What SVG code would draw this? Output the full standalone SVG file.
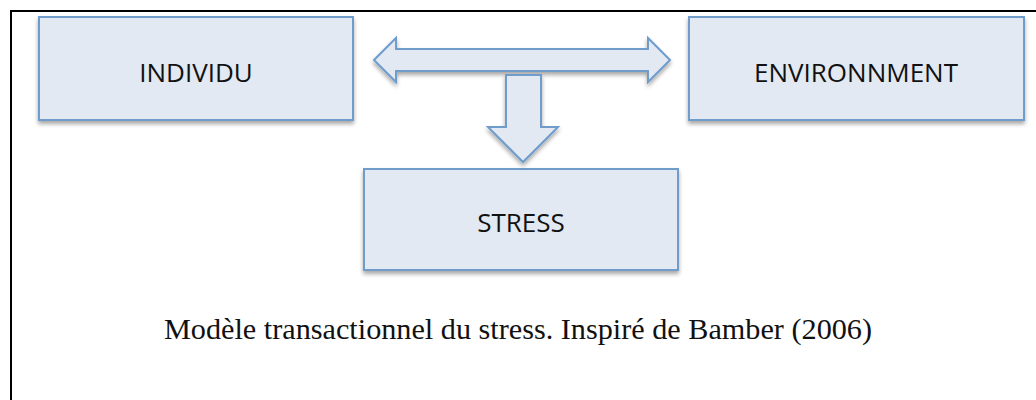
<svg xmlns="http://www.w3.org/2000/svg" width="1036" height="400" viewBox="0 0 1036 400">
<defs>
<filter id="sh" x="-10%" y="-10%" width="120%" height="130%">
<feGaussianBlur in="SourceAlpha" stdDeviation="2"/>
<feOffset dx="0" dy="3" result="b"/>
<feComponentTransfer><feFuncA type="linear" slope="0.35"/></feComponentTransfer>
<feMerge><feMergeNode/><feMergeNode in="SourceGraphic"/></feMerge>
</filter>
</defs>
<style>
.box{fill:#e2e9f2;stroke:#6f9ccc;stroke-width:2}
.lbl{font-family:"Open Sans","Noto Sans",sans-serif;font-size:26px;fill:#111;text-anchor:middle}
.cap{font-family:"Liberation Serif",serif;font-size:29px;fill:#111;text-anchor:middle}
</style>
<rect width="1036" height="400" fill="#fff"/>
<path d="M11 400 V11 H1036" fill="none" stroke="#000" stroke-width="2"/>
<g id="individu">
<rect class="box" x="39" y="17" width="314" height="103" filter="url(#sh)"/>
<text class="lbl" x="196" y="82">INDIVIDU</text>
</g>
<g id="environnement">
<rect class="box" x="689" y="17" width="335" height="103" filter="url(#sh)"/>
<text class="lbl" x="856" y="82">ENVIRONNMENT</text>
</g>
<g id="stress">
<rect class="box" x="364" y="169" width="314" height="101" filter="url(#sh)"/>
<text class="lbl" x="521" y="232">STRESS</text>
</g>
<g id="connectors">
<path class="box" filter="url(#sh)" d="M374 60 L396 38 V49 H648 V38 L670 60 L648 82 V71 H396 V82 Z"/>
<path class="box" filter="url(#sh)" d="M506 75 H541 V127 H558 L523 162 L488 127 H506 Z"/>
</g>
<text class="cap" x="518" y="339" textLength="708" lengthAdjust="spacingAndGlyphs">Modèle transactionnel du stress. Inspiré de Bamber (2006)</text>
</svg>
